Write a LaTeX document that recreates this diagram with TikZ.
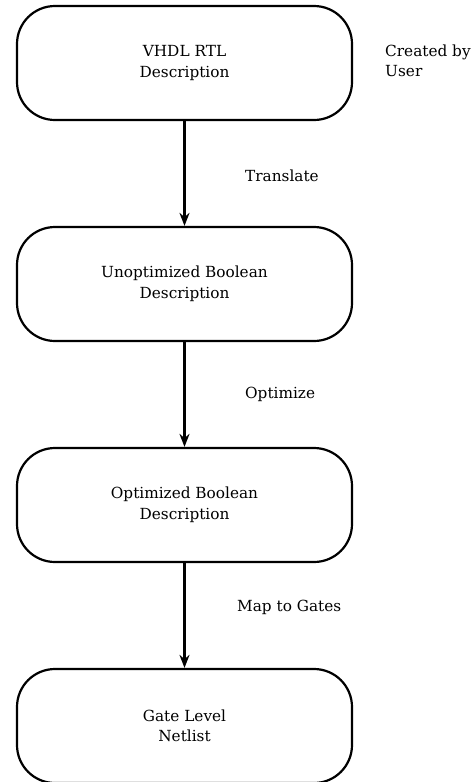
\documentclass[tikz,border=0pt]{standalone}
\usepackage{fontspec}
\setmainfont{DejaVu Serif}
\usetikzlibrary{arrows.meta}
\begin{document}
\begin{tikzpicture}[x=1pt,y=-1pt,
  stage/.style={draw=black, line width=2.2pt, rounded corners=38pt, minimum width=335pt, minimum height=114pt, align=center, font=\fontsize{15.3}{20.5}\selectfont, inner sep=0pt},
  lbl/.style={align=left, anchor=west, font=\fontsize{15.3}{20.5}\selectfont, inner sep=0pt},
  flow/.style={draw=black, line width=2.4pt, -{Stealth[length=13pt,width=10pt]}}]
\useasboundingbox (0,0) rectangle (474,782);
\node[stage] (a) at (184.5,63) {VHDL RTL\\Description};
\node[stage] (b) at (184.5,284) {Unoptimized Boolean\\Description};
\node[stage] (c) at (184.5,505) {Optimized Boolean\\Description};
\node[stage] (d) at (184.5,726) {Gate Level\\Netlist};
\draw[flow] (a) -- (b);
\draw[flow] (b) -- (c);
\draw[flow] (c) -- (d);
\node[lbl] (u) at (385,61) {Created by\\User};
\node[lbl] (t) at (245,176) {Translate};
\node[lbl] (o) at (245,394) {Optimize};
\node[lbl] (m) at (237,607) {Map to Gates};
\end{tikzpicture}
\end{document}
